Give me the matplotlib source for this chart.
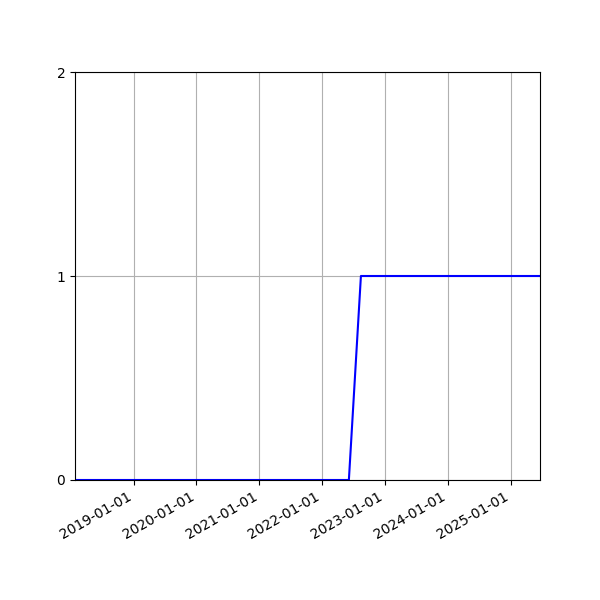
import matplotlib
matplotlib.use("Agg")
import matplotlib.pyplot as plt
import matplotlib.dates as mdates
import numpy as np
import datetime as dt

dates = [dt.datetime(2018, 1, 25), dt.datetime(2022, 6, 5), dt.datetime(2022, 8, 14), dt.datetime(2025, 6, 20)]
values = [0, 0, 1, 1]
yticks = [0, 1, 2]

fig, ax = plt.subplots(figsize=(6, 6), dpi=100)
ax.plot(dates, values, color="blue")
ax.set_xlim(dates[0], dates[-1])
ax.set_ylim(0, 2)
ax.set_yticks(yticks)
ax.xaxis.set_major_locator(mdates.YearLocator())
ax.xaxis.set_major_formatter(mdates.DateFormatter("%Y-%m-%d"))
ax.grid(True)
fig.autofmt_xdate()
fig.savefig("out.png", dpi=100)
